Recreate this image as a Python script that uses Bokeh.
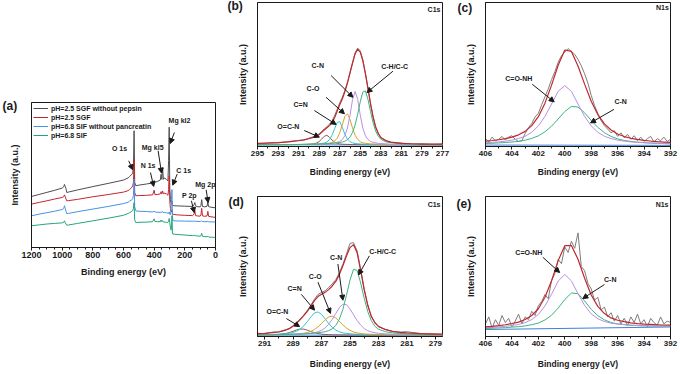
from bokeh.plotting import figure
from bokeh.models import Range1d, FixedTicker, Label, Arrow, NormalHead, Legend, LegendItem
from bokeh.layouts import row, column
from bokeh.embed import file_html
from bokeh.resources import INLINE

FONT = "Liberation Sans"

# ---------------- (a) survey spectra ----------------
survey_energy = [1200, 1150, 1100, 1050, 1000, 990, 985, 980, 975, 970, 960,
                 900, 800, 700, 600,
                 570, 560, 545, 540, 535, 531, 527, 520, 500,
                 450, 410, 400, 395, 380, 360, 355, 350, 345, 340, 335, 320, 310, 306, 302, 298,
                 294, 290, 287, 284, 281, 278, 270, 250, 200, 150,
                 140, 135, 130, 120, 100, 95, 90, 85, 70, 55,
                 50, 45, 30, 10, 0]
sgf_no_pepsin = [35.2, 36.6, 38.0, 39.4, 41.0, 41.8, 43.5, 42.0, 40.5, 37.9, 38.2,
                 39.7, 42.0, 44.2, 46.5,
                 48.0, 49.0, 50.5, 51.5, 55.0, 80.5, 45.0, 42.6, 43.0,
                 43.8, 44.5, 46.0, 45.0, 45.5, 46.5, 50.5, 47.0, 55.0, 47.0, 48.0, 47.0, 46.0, 60.0, 83.0, 40.0,
                 33.0, 31.0, 30.5, 32.0, 29.5, 29.0, 28.8, 28.7, 28.5, 28.3,
                 29.5, 31.0, 28.8, 28.2, 28.0, 29.0, 33.0, 28.3, 28.0, 28.5,
                 31.5, 28.2, 27.8, 27.5, 27.3]
sgf = [29.9, 31.1, 32.2, 33.4, 34.5, 35.0, 36.3, 35.0, 33.5, 32.2, 32.3,
       33.2, 35.0, 36.5, 38.2,
       39.2, 40.0, 41.5, 42.5, 45.0, 60.5, 38.0, 35.7, 35.8,
       36.0, 36.3, 39.5, 36.5, 36.5, 37.0, 38.5, 37.0, 39.0, 37.0, 37.5, 37.0, 36.0, 40.0, 49.5, 32.0,
       27.0, 25.0, 24.5, 26.0, 23.5, 23.0, 22.8, 22.5, 22.2, 22.0,
       23.0, 25.5, 22.0, 21.8, 21.6, 22.5, 27.0, 21.8, 21.5, 21.8,
       25.0, 21.5, 21.2, 20.9, 20.7]
sif_no_pancreatin = [21.9, 23.0, 24.0, 25.0, 26.2, 26.8, 28.8, 27.0, 25.0, 23.4, 23.5,
                     24.7, 26.5, 28.3, 30.3,
                     31.2, 32.0, 33.0, 33.5, 36.0, 47.2, 28.0, 25.3, 25.0,
                     24.8, 24.5, 25.0, 24.5, 24.3, 24.2, 24.6, 24.1, 24.8, 24.0, 24.2, 23.9, 23.7, 23.5, 24.5, 23.0,
                     22.5, 26.0, 33.0, 40.0, 22.0, 18.5, 18.4, 18.3, 18.2, 18.1,
                     18.1, 18.4, 18.0, 18.0, 17.9, 17.9, 18.4, 17.9, 17.8, 17.8,
                     18.0, 17.7, 17.7, 17.6, 17.6]
sif = [15.0, 15.6, 16.2, 16.6, 17.0, 17.3, 18.4, 17.2, 16.2, 15.4, 15.5,
       16.6, 18.4, 20.2, 22.2,
       23.5, 24.0, 25.0, 25.5, 27.0, 31.0, 19.0, 17.2, 17.4,
       17.5, 17.8, 19.8, 18.0, 17.8, 17.8, 19.0, 17.8, 18.5, 17.6, 17.5, 17.4, 17.3, 18.0, 20.0, 17.0,
       14.0, 12.0, 13.0, 22.0, 10.0, 9.3, 9.2, 9.0, 8.6, 8.2,
       8.2, 8.6, 8.0, 8.0, 7.8, 8.2, 9.8, 7.7, 7.5, 7.4,
       7.8, 7.2, 7.1, 7.0, 6.9]
survey_labels = ["pH=2.5 SGF without pepsin", "pH=2.5 SGF",
                 "pH=6.8 SIF without pancreatin", "pH=6.8 SIF"]

# ---------------- (b) C1s ----------------
c1s_b_energy = [295, 294, 293, 292, 291, 290.5, 290, 289.5, 289.25, 289, 288.75, 288.5, 288.25, 288,
                287.75, 287.5, 287.25, 287, 286.75, 286.5, 286.25, 286, 285.75, 285.5, 285.25, 285,
                284.75, 284.5, 284.25, 284, 283.75, 283.5, 283.25, 283, 282.5, 282, 281, 280, 279, 278, 277]
c1s_b_raw = [2.0, 2.6, 2.5, 3.4, 4.3, 4.4, 5.8, 6.9, 7.6, 8.9, 10.5, 12.3, 13.6, 15.6, 17.8, 21.4, 25.8,
             30.4, 34.1, 38.9, 44.6, 51.6, 58.3, 65.0, 68.4, 66.3, 60.3, 50.9, 40.8, 30.0, 20.2, 13.2,
             9.3, 6.1, 4.2, 2.8, 2.4, 1.8, 1.9, 1.5, 1.7]
c1s_b_fit = [2.2, 2.4, 2.7, 3.2, 4.0, 4.6, 5.4, 6.5, 7.3, 8.4, 9.8, 11.5, 13.0, 14.5, 16.5, 20.0, 24.5,
             29.0, 33.0, 38.0, 44.0, 51.0, 58.0, 64.5, 67.5, 65.5, 59.5, 50.5, 40.0, 29.5, 20.5, 13.5,
             9.0, 6.3, 4.0, 3.0, 2.2, 1.9, 1.7, 1.6, 1.6]
c1s_b_chcc = [1.3, 1.3, 1.3, 1.4, 1.4, 1.5, 1.5, 1.6, 1.6, 1.7, 1.8, 1.8, 1.9, 2.0, 2.2, 2.3, 2.5, 2.8,
              3.1, 3.7, 4.7, 6.6, 9.8, 15.0, 22.5, 31.1, 37.9, 38.6, 32.7, 24.2, 16.4, 10.7, 7.1, 5.0,
              3.2, 2.6, 1.9, 1.65, 1.5, 1.4, 1.4]
c1s_b_cn = [1.3, 1.3, 1.3, 1.3, 1.4, 1.4, 1.5, 1.5, 1.6, 1.6, 1.7, 1.8, 1.9, 2.1, 2.2, 2.5, 2.9, 3.5,
            4.8, 7.5, 12.8, 21.7, 32.7, 38.2, 32.7, 21.7, 12.8, 7.5, 4.8, 3.5, 2.9, 2.5, 2.2, 2.1,
            1.8, 1.6, 1.5, 1.4, 1.3, 1.3, 1.3]
c1s_b_co = [1.25, 1.25, 1.3, 1.3, 1.4, 1.4, 1.5, 1.55, 1.6, 1.7, 1.8, 1.9, 2.1, 2.35, 2.8, 3.8, 5.7,
            9.5, 15.0, 20.9, 22.7, 18.7, 12.7, 7.8, 4.9, 3.3, 2.6, 2.2, 2.0, 1.85, 1.75, 1.65, 1.6,
            1.55, 1.45, 1.4, 1.35, 1.3, 1.3, 1.25, 1.25]
c1s_b_c_n = [1.25, 1.25, 1.3, 1.35, 1.4, 1.45, 1.5, 1.6, 1.7, 1.85, 2.05, 2.4, 3.1, 4.7, 7.8, 12.3,
             16.7, 17.3, 13.3, 8.5, 5.2, 3.4, 2.5, 2.1, 1.9, 1.75, 1.65, 1.55, 1.5, 1.45, 1.45, 1.4,
             1.4, 1.4, 1.35, 1.3, 1.3, 1.3, 1.25, 1.25, 1.25]
c1s_b_ocn = [1.2, 1.25, 1.25, 1.3, 1.35, 1.4, 1.5, 1.9, 2.45, 3.5, 5.2, 7.1, 7.8, 6.4, 4.5, 3.05, 2.2,
             1.8, 1.6, 1.5, 1.45, 1.4, 1.35, 1.3, 1.3, 1.3, 1.3, 1.25, 1.25, 1.25, 1.25, 1.25, 1.25,
             1.2, 1.2, 1.2, 1.2, 1.2, 1.2, 1.2, 1.2]
c1s_b_base_energy = [295, 277]
c1s_b_base = [1.2, 1.0]

# ---------------- (c) N1s ----------------
n1s_energy = [406, 405.5, 405, 404.5, 404, 403.5, 403, 402.5, 402, 401.5, 401, 400.5, 400, 399.5,
              399, 398.5, 398, 397.5, 397, 396.5, 396, 395.5, 395, 394.5, 394, 393.5, 393, 392.5, 392]
n1s_raw_energy = [406, 405.75, 405.5, 405.25, 405, 404.75, 404.5, 404.25, 404, 403.75, 403.5, 403.25,
                  403, 402.75, 402.5, 402.25, 402, 401.75, 401.5, 401.25, 401, 400.75, 400.5, 400.25,
                  400, 399.75, 399.5, 399.25, 399, 398.75, 398.5, 398.25, 398, 397.75, 397.5, 397.25,
                  397, 396.75, 396.5, 396.25, 396, 395.75, 395.5, 395.25, 395, 394.75, 394.5, 394.25,
                  394, 393.75, 393.5, 393.25, 393, 392.75, 392.5, 392.25, 392]
n1s_c_raw = [5.5, 3.0, 6.5, 4.0, 5.0, 7.0, 4.5, 6.5, 7.5, 5.0, 3.5, 4.0, 9.0, 13.0, 16.0, 20.5, 23.0,
             29.0, 34.5, 40.0, 46.5, 52.0, 58.5, 63.0, 65.5, 68.0, 66.0, 64.0, 60.5, 56.0, 50.5, 44.0,
             35.5, 28.5, 23.0, 18.0, 14.5, 12.0, 9.5, 11.0, 7.0, 9.5, 6.0, 8.5, 5.0, 7.5, 4.0, 6.5,
             3.5, 5.5, 7.0, 3.0, 5.5, 4.0, 6.5, 3.5, 5.0]
n1s_c_fit = [3.7, 4.15, 4.7, 5.45, 6.5, 8.1, 10.5, 14.5, 20.7, 30.1, 42.6, 56.4, 67.0, 66.0, 55.9,
             43.3, 31.4, 22.2, 15.7, 11.5, 8.7, 6.9, 5.7, 4.9, 4.3, 3.8, 3.4, 3.1, 2.8]
n1s_c_conh = [2.6, 2.9, 3.2, 3.7, 4.4, 5.5, 7.1, 9.9, 14.3, 20.9, 29.5, 38.3, 42.3, 38.3, 29.5, 20.9,
              14.3, 9.9, 7.1, 5.5, 4.4, 3.7, 3.2, 2.9, 2.6, 2.4, 2.2, 2.05, 1.9]
n1s_c_cn = [2.1, 2.25, 2.5, 2.75, 3.1, 3.6, 4.4, 5.6, 7.4, 10.2, 14.1, 19.1, 24.3, 27.8, 27.4, 23.4,
            18.1, 13.3, 9.6, 7.0, 5.3, 4.2, 3.5, 3.0, 2.7, 2.4, 2.2, 2.05, 1.9]
n1s_c_base_energy = [406, 392]
n1s_c_base = [1.0, 0.8]

# ---------------- (d) C1s ----------------
c1s_d_energy = [291.5, 291, 290.5, 290, 289.5, 289.25, 289, 288.75, 288.5, 288.25, 288, 287.75, 287.5,
                287.25, 287, 286.75, 286.5, 286.25, 286, 285.75, 285.5, 285.25, 285, 284.75, 284.5,
                284.25, 284, 283.75, 283.5, 283.25, 283, 282.5, 282, 281.5, 281, 280, 279, 278.5]
c1s_d_raw = [2.3, 2.0, 3.0, 3.4, 4.9, 5.6, 7.8, 9.9, 12.6, 15.3, 18.6, 22.4, 26.5, 30.0, 31.5, 32.6,
             35.0, 37.6, 40.6, 45.5, 51.6, 58.8, 66.5, 67.0, 61.2, 48.0, 33.8, 22.6, 14.2, 10.1, 7.0,
             5.1, 3.5, 3.2, 3.4, 2.0, 1.9, 1.5]
c1s_d_fit = [2.05, 2.3, 2.7, 3.2, 4.6, 5.8, 7.4, 9.65, 12.1, 14.85, 18.0, 21.65, 25.6, 28.5, 30.2, 31.5,
             33.5, 36.1, 39.35, 44.2, 50.5, 57.5, 63.5, 65.6, 59.9, 47.1, 33.3, 22.1, 14.4, 9.8, 7.25,
             4.85, 3.7, 3.0, 2.6, 2.1, 1.75, 1.65]
c1s_d_chcc = [1.25, 1.3, 1.35, 1.4, 1.5, 1.55, 1.6, 1.7, 1.75, 1.85, 2.0, 2.15, 2.4, 2.65, 3.0, 3.45,
              4.2, 5.5, 7.9, 12.3, 19.4, 29.3, 40.4, 48.0, 47.2, 38.2, 27.2, 17.7, 11.2, 7.3, 5.2,
              3.35, 2.6, 2.15, 1.85, 1.55, 1.35, 1.3]
c1s_d_cn = [1.2, 1.25, 1.3, 1.35, 1.45, 1.5, 1.6, 1.7, 1.8, 1.9, 2.1, 2.35, 2.7, 3.35, 4.4, 6.1, 8.7,
            12.2, 16.4, 20.5, 23.1, 22.8, 19.7, 15.5, 11.4, 8.2, 5.7, 4.2, 3.2, 2.65, 2.3, 1.9, 1.65,
            1.5, 1.4, 1.27, 1.2, 1.17]
c1s_d_co = [1.18, 1.22, 1.27, 1.34, 1.45, 1.53, 1.6, 1.75, 1.95, 2.3, 2.8, 3.65, 5.0, 6.85, 9.3, 11.9,
            14.0, 14.55, 13.25, 10.9, 8.3, 6.05, 4.4, 3.25, 2.55, 2.1, 1.85, 1.7, 1.57, 1.49, 1.43,
            1.33, 1.25, 1.2, 1.17, 1.12, 1.09, 1.08]
c1s_d_c_n = [1.3, 1.37, 1.5, 1.66, 2.0, 2.33, 2.83, 3.8, 5.3, 7.55, 10.6, 13.95, 16.8, 17.55, 15.8,
             12.6, 9.3, 6.6, 4.6, 3.35, 2.6, 2.2, 1.9, 1.75, 1.63, 1.55, 1.47, 1.4, 1.35, 1.31, 1.27,
             1.22, 1.19, 1.15, 1.13, 1.1, 1.08, 1.07]
c1s_d_ocn = [1.12, 1.17, 1.26, 1.48, 2.19, 2.87, 3.75, 4.7, 5.33, 5.25, 4.52, 3.55, 2.71, 2.1, 1.69,
             1.45, 1.33, 1.25, 1.2, 1.17, 1.14, 1.12, 1.11, 1.1, 1.09, 1.08, 1.08, 1.07, 1.06, 1.06,
             1.05, 1.05, 1.04, 1.04, 1.03, 1.03, 1.02, 1.02]
c1s_d_base_energy = [291.5, 278.5]
c1s_d_base = [1.0, 0.9]

# ---------------- (e) N1s ----------------
n1s_e_raw = [9, 14, 6, 12, 8, 15, 10, 13, 7, 11, 16, 9, 14, 12, 18, 15, 22, 25, 30, 27, 40, 45, 55,
             52, 64, 60, 68, 63, 74, 50, 47, 38, 34, 26, 28, 19, 21, 14, 17, 11, 15, 9, 13, 8, 14,
             10, 16, 9, 12, 7, 13, 10, 8, 14, 9, 11, 10]
n1s_e_fit = [6.9, 7.3, 7.8, 8.4, 9.3, 10.3, 12.1, 15.0, 19.8, 28.0, 39.8, 54.2, 64.9, 65.0, 55.2, 41.6,
             29.6, 21.5, 16.4, 13.3, 11.6, 10.6, 9.7, 9.2, 8.8, 8.6, 8.4, 8.2, 8.1]
n1s_e_conh = [6.2, 6.5, 6.8, 7.3, 7.9, 8.6, 9.9, 12.1, 15.7, 21.8, 30.2, 39.6, 44.3, 39.7, 30.5, 22.2,
              16.2, 12.7, 10.7, 9.5, 8.9, 8.5, 8.1, 7.9, 7.7, 7.65, 7.6, 7.5, 7.5]
n1s_e_cn = [5.7, 5.9, 6.1, 6.3, 6.7, 7.0, 7.6, 8.4, 9.6, 11.8, 15.2, 20.3, 26.4, 31.1, 30.6, 25.4,
            19.4, 14.9, 11.9, 10.0, 9.0, 8.5, 8.0, 7.8, 7.6, 7.5, 7.5, 7.4, 7.4]
n1s_e_base_energy = [406, 392]
n1s_e_base = [5.0, 6.8]

survey_ticks = [0, 200, 400, 600, 800, 1000, 1200]
survey_minor = [0, 50, 100, 150, 200, 250, 300, 350, 400, 450, 500, 550, 600, 650, 700, 750, 800,
                850, 900, 950, 1000, 1050, 1100, 1150, 1200]
c1s_b_ticks = [295, 293, 291, 289, 287, 285, 283, 281, 279, 277]
c1s_b_minor = [295, 294, 293, 292, 291, 290, 289, 288, 287, 286, 285, 284, 283, 282, 281, 280, 279, 278, 277]
n1s_ticks = [406, 404, 402, 400, 398, 396, 394, 392]
n1s_minor = [406, 405, 404, 403, 402, 401, 400, 399, 398, 397, 396, 395, 394, 393, 392]
c1s_d_ticks = [291, 289, 287, 285, 283, 281, 279]
c1s_d_minor = [291, 290, 289, 288, 287, 286, 285, 284, 283, 282, 281, 280, 279]

# ---------------- styling ----------------
INK = "#1a1a1a"
RAW = "#7d7d7d"
FIT = "#c1272d"
GREEN = "#3db37f"
PURPLE = "#bb8ee2"
YELLOW = "#d6a328"
CYAN = "#2fc3cf"
BROWN = "#8e5a55"
BASE = "#3f7fd6"


def make_fig(width, height, xr, borders, xticks, xminor, tick_size, xt_size, yt_size, xt_stand, yt_stand,
             tag, tag_offset, tag_standoff):
    lb, rb, tb, bb = borders
    p = figure(width=width, height=height, x_range=Range1d(xr[0], xr[1]), y_range=Range1d(0, 100),
               output_backend="svg", toolbar_location=None,
               min_border_left=lb, min_border_right=rb, min_border_top=tb, min_border_bottom=bb,
               x_axis_label="Binding energy (eV)", y_axis_label="Intensity (a.u.)")
    p.xgrid.visible = False
    p.ygrid.visible = False
    p.background_fill_color = "white"
    p.border_fill_color = "white"
    p.outline_line_color = INK
    p.outline_line_width = 1
    p.outline_line_alpha = 1
    # panel tag, e.g. "(b)", drawn as the figure title beside the frame's top-left corner
    p.title.text = tag
    p.title.align = "left"
    p.title.vertical_align = "bottom"
    p.title.offset = tag_offset
    p.title.standoff = tag_standoff
    p.title.text_font = FONT
    p.title.text_font_size = "12px"
    p.title.text_font_style = "bold"
    p.title.text_color = INK
    for ax in p.axis:
        ax.axis_line_color = INK
        ax.axis_line_width = 1
        ax.axis_label_text_font = FONT
        ax.axis_label_text_font_style = "bold"
        ax.axis_label_text_color = INK
        ax.major_label_text_font = FONT
        ax.major_label_text_font_style = "bold"
        ax.major_label_text_color = INK
    xa = p.xaxis[0]
    xa.ticker = FixedTicker(ticks=xticks, minor_ticks=xminor)
    xa.major_tick_in = 0
    xa.major_tick_out = 3
    xa.minor_tick_in = 0
    xa.minor_tick_out = 2
    xa.major_tick_line_color = INK
    xa.minor_tick_line_color = INK
    xa.major_label_text_font_size = tick_size
    xa.major_label_standoff = 1
    xa.axis_label_text_font_size = xt_size
    xa.axis_label_standoff = xt_stand
    ya = p.yaxis[0]
    ya.ticker = FixedTicker(ticks=[])
    ya.major_tick_in = 0
    ya.major_tick_out = 0
    ya.minor_tick_in = 0
    ya.minor_tick_out = 0
    ya.major_label_standoff = 0
    ya.axis_label_text_font_size = yt_size
    ya.axis_label_standoff = yt_stand
    return p


def add_text(p, x, y, text, size="7px", align="center"):
    p.add_layout(Label(x=x, y=y, text=text, text_font=FONT, text_font_style="bold",
                       text_font_size=size, text_align=align, text_baseline="middle",
                       text_color=INK))


def add_arrow(p, x0, y0, x1, y1):
    p.add_layout(Arrow(end=NormalHead(size=5, line_color=INK, fill_color=INK, line_width=1),
                       x_start=x0, y_start=y0, x_end=x1, y_end=y1,
                       line_color=INK, line_width=1))


# ---------------- panel (a) ----------------
pa = make_fig(225, 374, (1200, 0), (31, 10, 102, 127), survey_ticks, survey_minor,
              "9px", "9px", "9px", 6, 12, "(a)", -29, -21)
r1 = pa.line(survey_energy, sgf_no_pepsin, line_color="#4d4d4d", line_width=1)
r2 = pa.line(survey_energy, sgf, line_color="#c4262e", line_width=1)
r3 = pa.line(survey_energy, sif_no_pancreatin, line_color="#4592e6", line_width=1)
r4 = pa.line(survey_energy, sif, line_color="#22a57b", line_width=1)
leg = Legend(items=[LegendItem(label=survey_labels[0], renderers=[r1]),
                    LegendItem(label=survey_labels[1], renderers=[r2]),
                    LegendItem(label=survey_labels[2], renderers=[r3]),
                    LegendItem(label=survey_labels[3], renderers=[r4])],
             location="top_left", label_text_font=FONT, label_text_font_style="bold",
             label_text_font_size="7px", label_text_color=INK, glyph_width=15, glyph_height=8,
             label_height=8, label_standoff=3, spacing=1, padding=1, margin=1,
             border_line_alpha=0, background_fill_alpha=0)
pa.add_layout(leg)
for txt, x, y in [("O 1s", 626, 68), ("N 1s", 440, 56.6), ("Mg kl5", 410, 68.9),
                  ("Mg kl2", 235, 87.4), ("C 1s", 207, 53.4), ("P 2p", 171, 36.2),
                  ("Mg 2p", 66, 43.7)]:
    add_text(pa, x, y, txt)
for x0, y0, x1, y1 in [(566, 59.8, 540, 53.6), (424, 51.7, 403, 42.1), (374, 66.7, 352, 51.3),
                       (268, 79.3, 296, 71.7), (250, 50.6, 279, 43), (157, 32.2, 139, 24.1),
                       (61, 39.8, 48, 31)]:
    add_arrow(pa, x0, y0, x1, y1)


def draw_c1s(p, xs, raw, base_x, base_y, comps, fit):
    p.line(xs, raw, line_color=RAW, line_width=1)
    p.line(base_x, base_y, line_color=BASE, line_width=1)
    for ys, col in comps:
        p.line(xs, ys, line_color=col, line_width=1)
    p.line(xs, fit, line_color=FIT, line_width=1.2)


# ---------------- panel (b) ----------------
pb = make_fig(231, 186, (295, 277), (32, 14, 2, 40), c1s_b_ticks, c1s_b_minor,
              "8px", "8.5px", "9px", 8, 10, "(b)", -30, -21)
draw_c1s(pb, c1s_b_energy, c1s_b_raw, c1s_b_base_energy, c1s_b_base,
         [(c1s_b_ocn, BROWN), (c1s_b_c_n, CYAN), (c1s_b_co, YELLOW), (c1s_b_cn, PURPLE), (c1s_b_chcc, GREEN)],
         c1s_b_fit)
for txt, x, y in [("C-N", 289.14, 56.3), ("C-O", 289.6, 40.0), ("C=N", 290.8, 29.2),
                  ("O=C-N", 292.0, 13.9), ("C-H/C-C", 281.66, 55.6)]:
    add_text(pb, x, y, txt)
for x0, y0, x1, y1 in [(287.84, 49.3, 285.72, 34.2), (288.33, 34.2, 286.54, 22.7),
                       (289.47, 25.0, 287.35, 15.3), (290.45, 11.1, 288.98, 6.5),
                       (281.82, 52.3, 284.35, 37.5)]:
    add_arrow(pb, x0, y0, x1, y1)
add_text(pb, 277.2, 95, "C1s", align="right")

# ---------------- panel (c) ----------------
pc = make_fig(224, 186, (406, 392), (29, 10, 2, 40), n1s_ticks, n1s_minor,
              "8px", "8.5px", "9px", 8, 10, "(c)", -28, -25)
pc.line(n1s_raw_energy, n1s_c_raw, line_color=RAW, line_width=1)
pc.line(n1s_c_base_energy, n1s_c_base, line_color=BASE, line_width=1)
pc.line(n1s_energy, n1s_c_cn, line_color=GREEN, line_width=1)
pc.line(n1s_energy, n1s_c_conh, line_color=PURPLE, line_width=1)
pc.line(n1s_energy, n1s_c_fit, line_color=FIT, line_width=1.2)
add_text(pc, 403.48, 46.9, "C=O-NH")
add_text(pc, 395.77, 31.0, "C-N")
add_arrow(pc, 402.46, 43.2, 400.8, 31.0)
add_arrow(pc, 396.28, 25.8, 398.05, 16.4)
add_text(pc, 392.13, 96.2, "N1s", align="right")

# ---------------- panel (d) ----------------
pd_ = make_fig(231, 188, (291.5, 278.5), (32, 14, 10, 38), c1s_d_ticks, c1s_d_minor,
               "8px", "8.5px", "9px", 10, 10, "(d)", -29, -25)
draw_c1s(pd_, c1s_d_energy, c1s_d_raw, c1s_d_base_energy, c1s_d_base,
         [(c1s_d_ocn, BROWN), (c1s_d_c_n, CYAN), (c1s_d_co, YELLOW), (c1s_d_cn, PURPLE), (c1s_d_chcc, GREEN)],
         c1s_d_fit)
for txt, x, y in [("C-H/C-C", 282.7, 60.9), ("C-N", 285.97, 56.2), ("C-O", 287.44, 43.0),
                  ("C=N", 288.89, 34.3), ("O=C-N", 290.1, 17.6)]:
    add_text(pd_, x, y, txt)
for x0, y0, x1, y1 in [(283.64, 57.6, 284.4, 44.0), (285.85, 51.8, 285.5, 25.9),
                       (287.25, 38.8, 286.37, 16.5), (288.42, 30.1, 287.49, 18.8),
                       (289.47, 12.8, 288.54, 7.1)]:
    add_arrow(pd_, x0, y0, x1, y1)
add_text(pd_, 278.64, 94.3, "C1s", align="right")

# ---------------- panel (e) ----------------
pe = make_fig(224, 188, (406, 392), (29, 10, 10, 38), n1s_ticks, n1s_minor,
              "8px", "8.5px", "9px", 10, 10, "(e)", -29, -28)
pe.line(n1s_raw_energy, n1s_e_raw, line_color=RAW, line_width=1)
pe.line(n1s_e_base_energy, n1s_e_base, line_color=BASE, line_width=1)
pe.line(n1s_energy, n1s_e_cn, line_color=GREEN, line_width=1)
pe.line(n1s_energy, n1s_e_conh, line_color=PURPLE, line_width=1)
pe.line(n1s_energy, n1s_e_fit, line_color=FIT, line_width=1.2)
add_text(pe, 402.72, 60.3, "C=O-NH")
add_text(pe, 396.56, 40.6, "C-N")
add_arrow(pe, 401.66, 56.6, 400.39, 45.7)
add_arrow(pe, 397.0, 37.1, 398.64, 27.1)
add_text(pe, 392.15, 94.3, "N1s", align="right")

layout = row(pa, column(row(pb, pc), row(pd_, pe)))
open("out.html", "w").write(file_html(layout, INLINE))
